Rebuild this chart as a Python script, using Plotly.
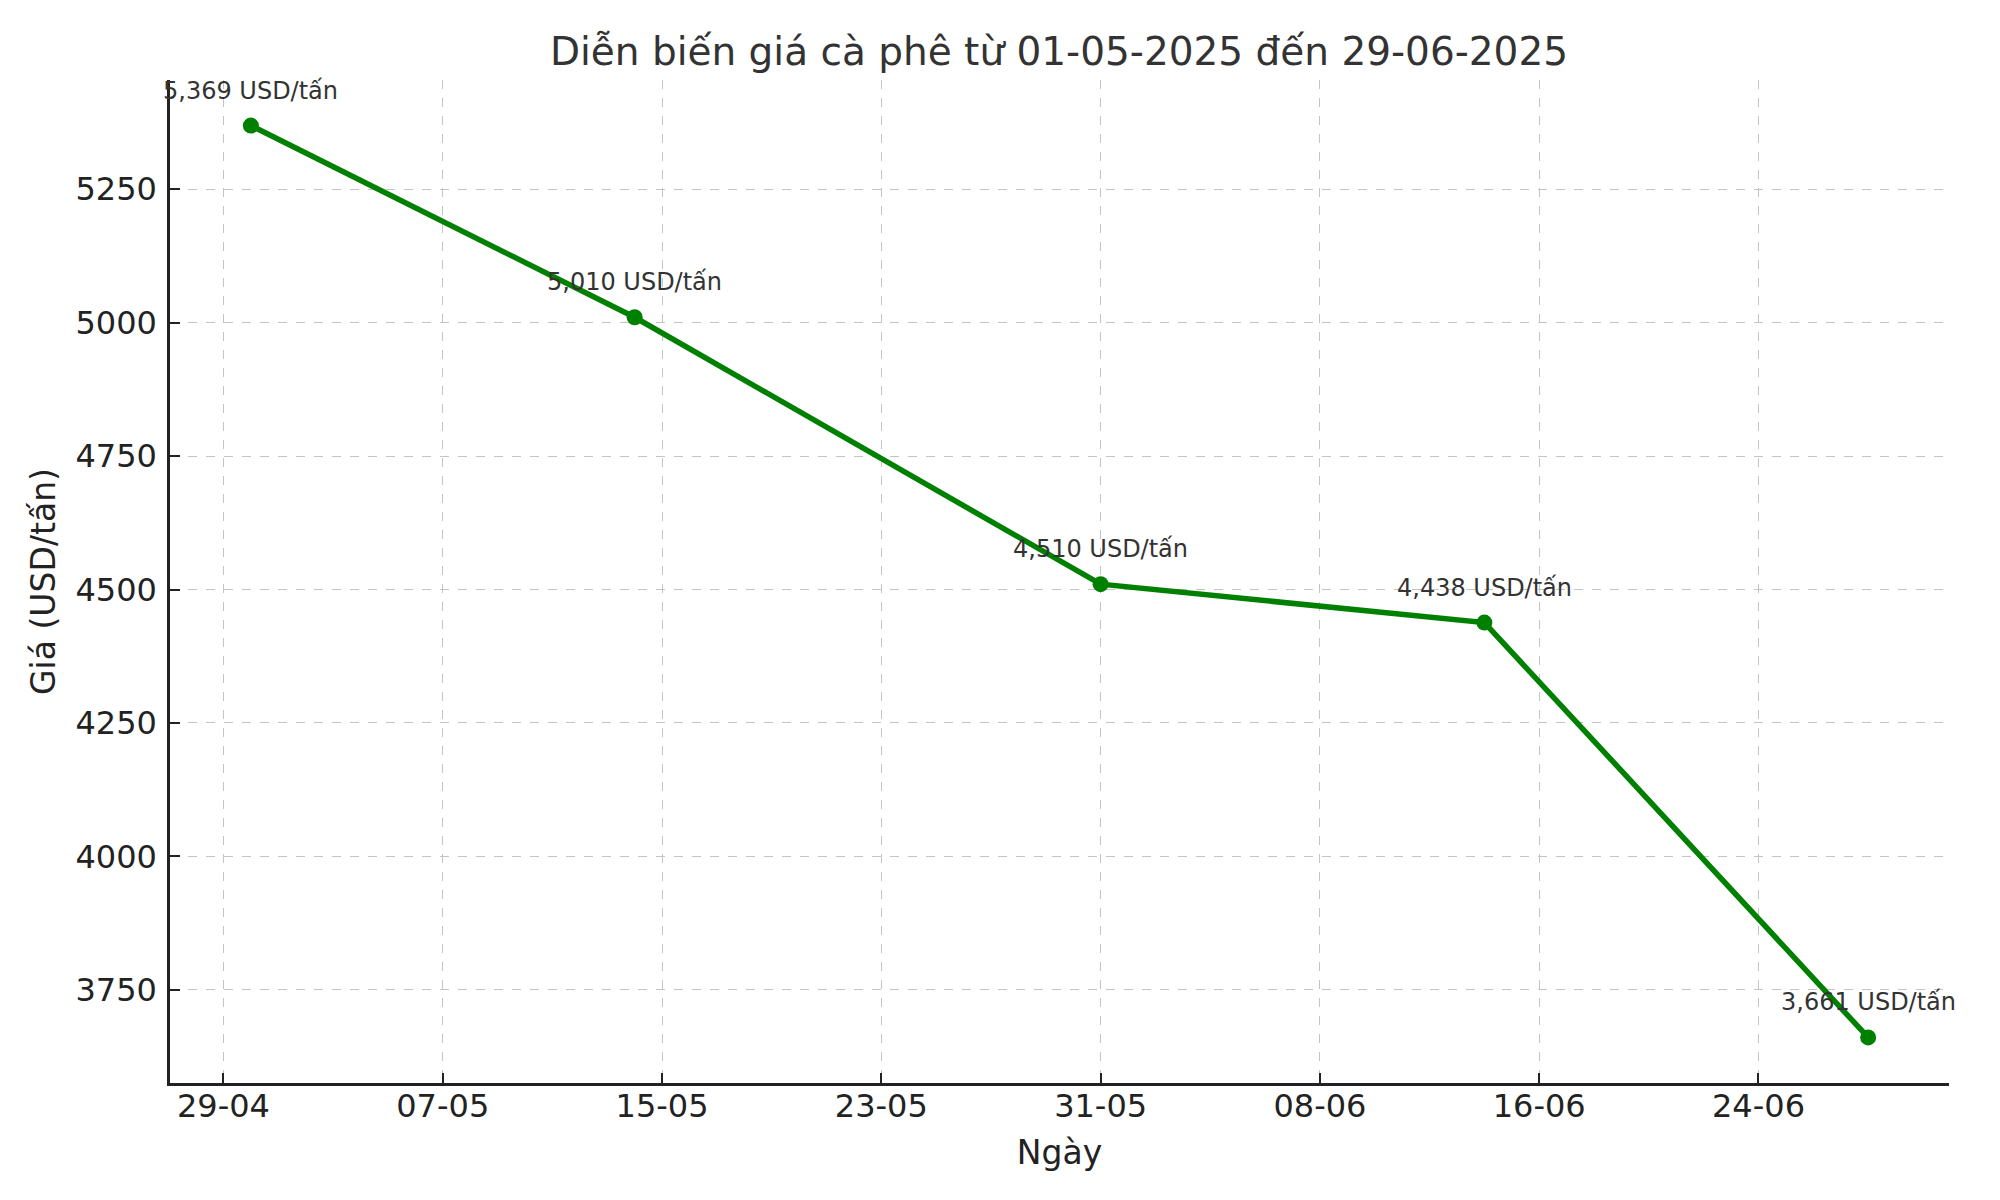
import pandas as pd
import plotly.graph_objects as go

dates = ["2025-04-30", "2025-05-14", "2025-05-31", "2025-06-14", "2025-06-28"]
prices = [5369, 5010, 4510, 4438, 3661]
labels = ["5,369 USD/tấn", "5,010 USD/tấn", "4,510 USD/tấn", "4,438 USD/tấn", "3,661 USD/tấn"]
x_tick_vals = ["2025-04-29", "2025-05-07", "2025-05-15", "2025-05-23", "2025-05-31",
               "2025-06-08", "2025-06-16", "2025-06-24"]
x_tick_text = ["29-04", "07-05", "15-05", "23-05", "31-05", "08-06", "16-06", "24-06"]
y_tick_vals = [3750, 4000, 4250, 4500, 4750, 5000, 5250]

title = "Diễn biến giá cà phê từ 01-05-2025 đến 29-06-2025"
x_title = "Ngày"
y_title = "Giá (USD/tấn)"

FONT = "DejaVu Sans"

d = pd.to_datetime(dates)
span = d.max() - d.min()
xr = [d.min() - span * 0.05, d.max() + span * 0.05]
pr = max(prices) - min(prices)
yr = [min(prices) - pr * 0.05, max(prices) + pr * 0.05]

fig = go.Figure()
fig.add_trace(go.Scatter(
    x=d, y=prices, mode="lines+markers",
    line=dict(color="#008000", width=5.5),
    marker=dict(color="#008000", size=16),
    showlegend=False,
))

for xi, yi, lab in zip(d, prices, labels):
    fig.add_annotation(x=xi, y=yi, text=lab, showarrow=False,
                       xanchor="center", yanchor="middle", yshift=35,
                       font=dict(family=FONT, size=24, color="#333333"))

grid = dict(showgrid=True, gridcolor="#c4c4c4", gridwidth=1.3, griddash="dash")

fig.update_layout(
    width=2000, height=1200,
    paper_bgcolor="white", plot_bgcolor="white",
    margin=dict(l=162, r=59, t=72, b=125),
    title=dict(text=title, x=0.5255, xanchor="center", y=0.964, yanchor="middle",
               font=dict(family=FONT, size=39, color="#333333")),
    font=dict(family=FONT, color="#222222"),
    xaxis=dict(
        range=xr, tickvals=pd.to_datetime(x_tick_vals), ticktext=x_tick_text,
        ticks="inside", ticklen=10, tickwidth=2, tickcolor="#222222",
        showline=True, linecolor="#222222", linewidth=2.5, mirror=False,
        tickfont=dict(family=FONT, size=32, color="#222222"),
        ticklabelstandoff=-7,
        title=dict(text=x_title, standoff=17, font=dict(family=FONT, size=33, color="#222222")),
        zeroline=False, **grid,
    ),
    yaxis=dict(
        range=yr, tickvals=y_tick_vals,
        ticks="inside", ticklen=10, tickwidth=2, tickcolor="#222222",
        showline=True, linecolor="#222222", linewidth=2.5, mirror=False,
        tickfont=dict(family=FONT, size=32, color="#222222"),
        ticklabelstandoff=4,
        title=dict(text=y_title, standoff=10, font=dict(family=FONT, size=33, color="#222222")),
        zeroline=False, **grid,
    ),
)

fig.write_html("out.html")
